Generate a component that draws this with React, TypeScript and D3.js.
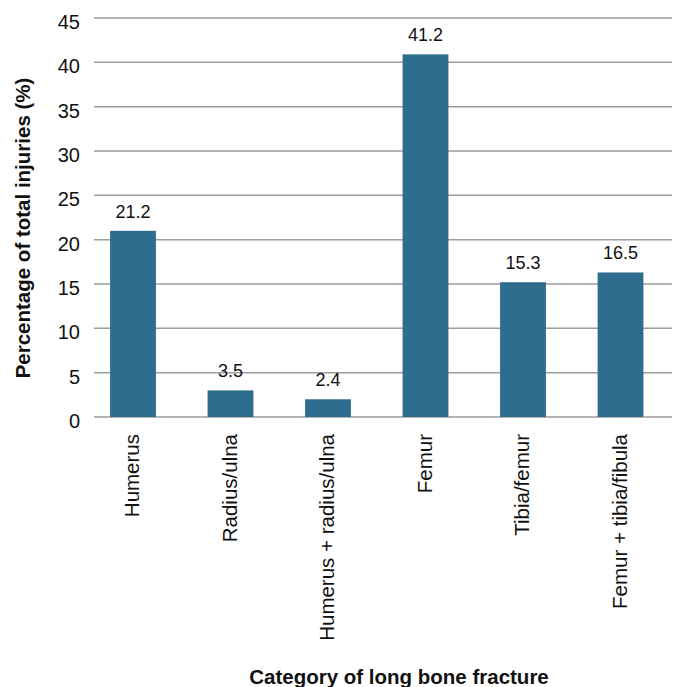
import React from "react";
import * as d3 from "d3";

const categories = [
  "Humerus",
  "Radius/ulna",
  "Humerus + radius/ulna",
  "Femur",
  "Tibia/femur",
  "Femur + tibia/fibula",
];
const barValues = [21.0, 3.0, 2.0, 40.9, 15.2, 16.3];
const valueLabels = ["21.2", "3.5", "2.4", "41.2", "15.3", "16.5"];
const yTicks = [0, 5, 10, 15, 20, 25, 30, 35, 40, 45];
const yTitle = "Percentage of total injuries (%)";
const xTitle = "Category of long bone fracture";

const W = 677;
const H = 687;
const FONT = "'Liberation Sans', Arial, Helvetica, sans-serif";

export default function App() {
  const y = d3.scaleLinear().domain([0, 45]).range([417, 18]);
  const x = d3
    .scaleBand<string>()
    .domain(categories)
    .range([84.25, 669.25])
    .paddingInner(0.53)
    .paddingOuter(0.265);
  const gridX0 = 94;
  const gridX1 = 672;

  return (
    <svg
      width={W}
      height={H}
      style={{ position: "absolute", left: 0, top: 0, background: "#fff" }}
      fontFamily={FONT}
    >
      {yTicks.map((t) => (
        <g key={t}>
          <line
            x1={gridX0}
            x2={gridX1}
            y1={y(t)}
            y2={y(t)}
            stroke="#9c9c9c"
            strokeWidth={1.5}
          />
          <text
            x={80}
            y={y(t) + 11}
            textAnchor="end"
            fontSize={20}
            fill="#111"
          >
            {t}
          </text>
        </g>
      ))}
      {categories.map((c, i) => {
        const bx = x(c)!;
        const bw = x.bandwidth();
        const top = y(barValues[i]);
        const cx = bx + bw / 2;
        return (
          <g key={c}>
            <rect x={bx} y={top} width={bw} height={y(0) - top} fill="#2e6d8e" />
            <text
              x={cx}
              y={top - 13}
              textAnchor="middle"
              fontSize={18}
              fill="#111"
            >
              {valueLabels[i]}
            </text>
            <text
              transform={`translate(${cx + 6},434) rotate(-90)`}
              textAnchor="end"
              fontSize={20.5}
              fill="#111"
            >
              {c}
            </text>
          </g>
        );
      })}
      <text
        transform={`translate(30,228) rotate(-90)`}
        textAnchor="middle"
        fontSize={20.5}
        fontWeight="bold"
        fill="#111"
      >
        {yTitle}
      </text>
      <text
        x={399}
        y={684}
        textAnchor="middle"
        fontSize={20.5}
        fontWeight="bold"
        fill="#111"
      >
        {xTitle}
      </text>
    </svg>
  );
}
